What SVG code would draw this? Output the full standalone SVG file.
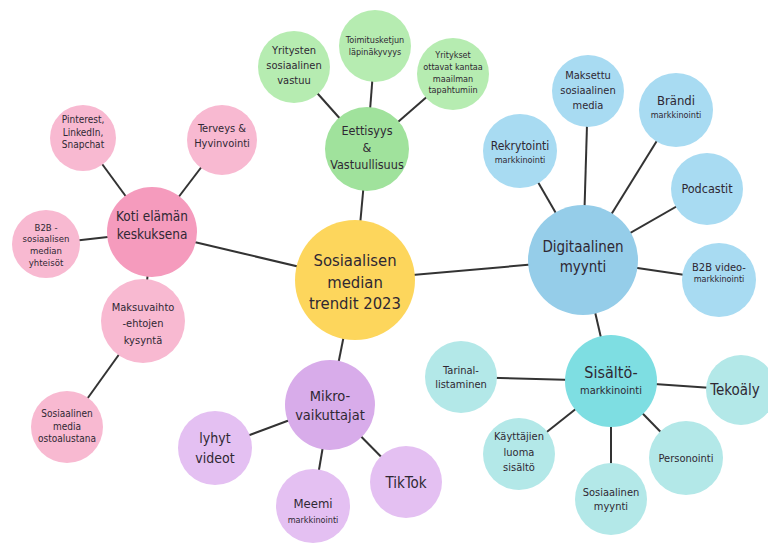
<svg xmlns="http://www.w3.org/2000/svg" width="768" height="543" viewBox="0 0 768 543">
<style>
.l{stroke:#333;stroke-width:2;fill:none}
text{font-family:"DejaVu Sans Condensed","DejaVu Sans",sans-serif;font-stretch:condensed;fill:#2f2833;text-anchor:middle;dominant-baseline:central}
.y{fill:#fdd65c}.pm{fill:#f59bbd}.pc{fill:#f8b9d1}.gm{fill:#a0e29c}.gc{fill:#b6ecb1}
.bm{fill:#95cde9}.bc{fill:#a8dbf2}.tm{fill:#7edee2}.tc{fill:#b3e8e8}.um{fill:#d8acea}.uc{fill:#e4c0f2}
</style>
<rect width="768" height="543" fill="#fff"/>
<g id="connectors">
<line class="l" x1="355" y1="280" x2="152" y2="232"/>
<line class="l" x1="355" y1="280" x2="367" y2="149"/>
<line class="l" x1="355" y1="280" x2="583" y2="260"/>
<line class="l" x1="355" y1="280" x2="330" y2="405"/>
<line class="l" x1="152" y1="232" x2="83" y2="138"/>
<line class="l" x1="152" y1="232" x2="222" y2="140"/>
<line class="l" x1="152" y1="232" x2="46" y2="244"/>
<line class="l" x1="152" y1="232" x2="143" y2="321"/>
<line class="l" x1="143" y1="321" x2="67" y2="427"/>
<line class="l" x1="367" y1="149" x2="294" y2="67"/>
<line class="l" x1="367" y1="149" x2="375" y2="46"/>
<line class="l" x1="367" y1="149" x2="453" y2="74"/>
<line class="l" x1="583" y1="260" x2="520" y2="151"/>
<line class="l" x1="583" y1="260" x2="588" y2="91"/>
<line class="l" x1="583" y1="260" x2="676" y2="110"/>
<line class="l" x1="583" y1="260" x2="707" y2="189"/>
<line class="l" x1="583" y1="260" x2="719" y2="280"/>
<line class="l" x1="583" y1="260" x2="611" y2="381"/>
<line class="l" x1="611" y1="381" x2="461" y2="377"/>
<line class="l" x1="611" y1="381" x2="741" y2="390"/>
<line class="l" x1="611" y1="381" x2="519" y2="454"/>
<line class="l" x1="611" y1="381" x2="686" y2="458"/>
<line class="l" x1="611" y1="381" x2="611" y2="499"/>
<line class="l" x1="330" y1="405" x2="215" y2="448"/>
<line class="l" x1="330" y1="405" x2="313" y2="505"/>
<line class="l" x1="330" y1="405" x2="406" y2="482"/>
</g>
<g id="center"><circle class="y" cx="355" cy="280" r="60"/>
<text font-size="16.5"><tspan x="355" y="260">Sosiaalisen</tspan><tspan x="355" y="282">median</tspan><tspan x="355" y="303">trendit 2023</tspan></text></g>
<g id="koti"><circle class="pm" cx="152" cy="232" r="45"/>
<text font-size="13.5"><tspan x="152" y="216">Koti elämän</tspan><tspan x="152" y="234">keskuksena</tspan></text></g>
<g id="pinterest"><circle class="pc" cx="83" cy="138" r="33"/>
<text font-size="10"><tspan x="83" y="119">Pinterest,</tspan><tspan x="83" y="132">LinkedIn,</tspan><tspan x="83" y="144">Snapchat</tspan></text></g>
<g id="terveys"><circle class="pc" cx="222" cy="140" r="35"/>
<text font-size="11"><tspan x="222" y="128">Terveys &amp;</tspan><tspan x="222" y="143">Hyvinvointi</tspan></text></g>
<g id="b2b"><circle class="pc" cx="46" cy="244" r="34"/>
<text font-size="9.5"><tspan x="46" y="227">B2B -</tspan><tspan x="46" y="238">sosiaalisen</tspan><tspan x="46" y="250">median</tspan><tspan x="46" y="262">yhteisöt</tspan></text></g>
<g id="maksuvaihto"><circle class="pc" cx="143" cy="321" r="42"/>
<text font-size="11"><tspan x="143" y="307">Maksuvaihto</tspan><tspan x="143" y="323">-ehtojen</tspan><tspan x="143" y="340">kysyntä</tspan></text></g>
<g id="ostoalusta"><circle class="pc" cx="67" cy="427" r="36"/>
<text font-size="10"><tspan x="67" y="413">Sosiaalinen</tspan><tspan x="67" y="426">media</tspan><tspan x="67" y="438">ostoalustana</tspan></text></g>
<g id="eettisyys"><circle class="gm" cx="367" cy="149" r="42"/>
<text font-size="12.5"><tspan x="367" y="130">Eettisyys</tspan><tspan x="367" y="147">&amp;</tspan><tspan x="367" y="164">Vastuullisuus</tspan></text></g>
<g id="yritysten"><circle class="gc" cx="294" cy="67" r="36"/>
<text font-size="11"><tspan x="294" y="50">Yritysten</tspan><tspan x="294" y="65">sosiaalinen</tspan><tspan x="294" y="80">vastuu</tspan></text></g>
<g id="toimitus"><circle class="gc" cx="375" cy="46" r="36"/>
<text font-size="9"><tspan x="375" y="40">Toimitusketjun</tspan><tspan x="375" y="52">läpinäkyvyys</tspan></text></g>
<g id="yritykset"><circle class="gc" cx="453" cy="74" r="36"/>
<text font-size="9"><tspan x="453" y="55">Yritykset</tspan><tspan x="453" y="67">ottavat kantaa</tspan><tspan x="453" y="79">maailman</tspan><tspan x="453" y="90">tapahtumiin</tspan></text></g>
<g id="digitaalinen"><circle class="bm" cx="583" cy="260" r="55"/>
<text font-size="15"><tspan x="583" y="247">Digitaalinen</tspan><tspan x="583" y="267">myynti</tspan></text></g>
<g id="rekrytointi"><circle class="bc" cx="520" cy="151" r="37"/>
<text><tspan x="520" y="146" font-size="12">Rekrytointi</tspan><tspan x="520" y="160" font-size="9">markkinointi</tspan></text></g>
<g id="maksettu"><circle class="bc" cx="588" cy="91" r="36"/>
<text font-size="11"><tspan x="588" y="75">Maksettu</tspan><tspan x="588" y="90">sosiaalinen</tspan><tspan x="588" y="105">media</tspan></text></g>
<g id="brandi"><circle class="bc" cx="676" cy="110" r="37"/>
<text><tspan x="676" y="100" font-size="13">Brändi</tspan><tspan x="676" y="115" font-size="9">markkinointi</tspan></text></g>
<g id="podcastit"><circle class="bc" cx="707" cy="189" r="36"/>
<text font-size="12.5"><tspan x="707" y="188">Podcastit</tspan></text></g>
<g id="b2bvideo"><circle class="bc" cx="719" cy="280" r="37"/>
<text><tspan x="719" y="267" font-size="11">B2B video-</tspan><tspan x="719" y="279" font-size="9">markkinointi</tspan></text></g>
<g id="sisalto"><circle class="tm" cx="611" cy="381" r="46"/>
<text><tspan x="611" y="372" font-size="16">Sisältö-</tspan><tspan x="611" y="390" font-size="11">markkinointi</tspan></text></g>
<g id="tarinal"><circle class="tc" cx="461" cy="377" r="36"/>
<text font-size="11"><tspan x="461" y="370">Tarinal-</tspan><tspan x="461" y="384">listaminen</tspan></text></g>
<g id="tekoaly"><circle class="tc" cx="741" cy="390" r="35"/>
<text font-size="15"><tspan x="735" y="390">Tekoäly</tspan></text></g>
<g id="kayttajien"><circle class="tc" cx="519" cy="454" r="36"/>
<text font-size="11"><tspan x="519" y="436">Käyttäjien</tspan><tspan x="519" y="452">luoma</tspan><tspan x="519" y="467">sisältö</tspan></text></g>
<g id="personointi"><circle class="tc" cx="686" cy="458" r="37"/>
<text font-size="11"><tspan x="686" y="458">Personointi</tspan></text></g>
<g id="sosmyynti"><circle class="tc" cx="611" cy="499" r="36"/>
<text font-size="11"><tspan x="611" y="492">Sosiaalinen</tspan><tspan x="611" y="506">myynti</tspan></text></g>
<g id="mikro"><circle class="um" cx="330" cy="405" r="45"/>
<text font-size="14.5"><tspan x="330" y="396">Mikro-</tspan><tspan x="330" y="415">vaikuttajat</tspan></text></g>
<g id="lyhyt"><circle class="uc" cx="215" cy="448" r="37"/>
<text font-size="14"><tspan x="215" y="438">lyhyt</tspan><tspan x="215" y="458">videot</tspan></text></g>
<g id="meemi"><circle class="uc" cx="313" cy="506" r="37"/>
<text><tspan x="313" y="503" font-size="13">Meemi</tspan><tspan x="313" y="520" font-size="9">markkinointi</tspan></text></g>
<g id="tiktok"><circle class="uc" cx="406" cy="482" r="36"/>
<text font-size="15"><tspan x="406" y="483">TikTok</tspan></text></g>
</svg>
